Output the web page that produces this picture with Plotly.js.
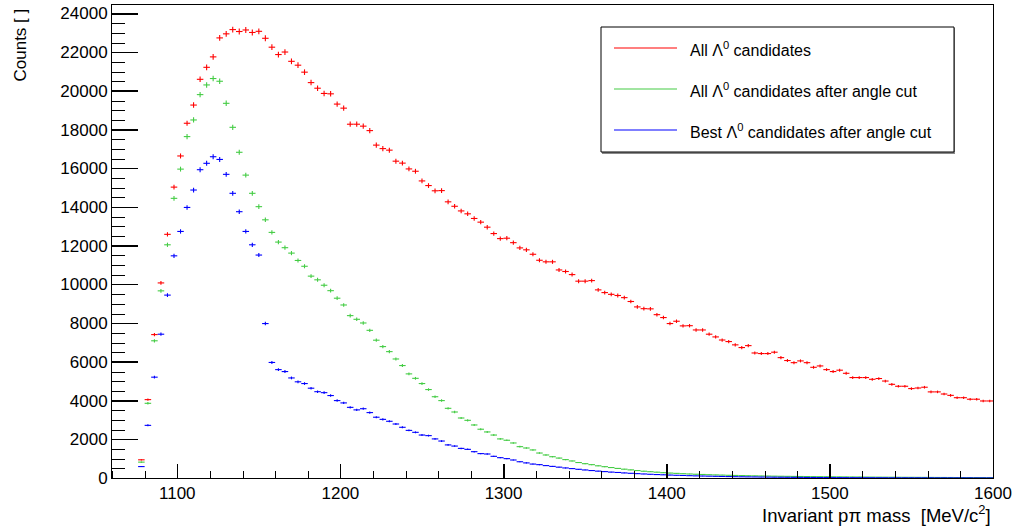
<!DOCTYPE html>
<html>
<head>
<meta charset="utf-8">
<script src="https://cdn.plot.ly/plotly-3.0.1.min.js"></script>
<style>html,body{margin:0;padding:0;background:#fff;}#wrap{position:relative;width:1019px;height:526px;}#chart{width:1019px;height:526px;}#ticks{position:absolute;left:0;top:0;pointer-events:none;}</style>
</head>
<body>
<div id="wrap"><div id="chart"></div><svg id="ticks" width="1019" height="526" xmlns="http://www.w3.org/2000/svg"></svg></div>
<script>
// Bin centres (4 MeV/c^2 bins)
const binCenters = [
 1078,1082,1086,1090,1094,1098,1102,1106,1110,1114,
 1118,1122,1126,1130,1134,1138,1142,1146,1150,1154,
 1158,1162,1166,1170,1174,1178,1182,1186,1190,1194,
 1198,1202,1206,1210,1214,1218,1222,1226,1230,1234,
 1238,1242,1246,1250,1254,1258,1262,1266,1270,1274,
 1278,1282,1286,1290,1294,1298,1302,1306,1310,1314,
 1318,1322,1326,1330,1334,1338,1342,1346,1350,1354,
 1358,1362,1366,1370,1374,1378,1382,1386,1390,1394,
 1398,1402,1406,1410,1414,1418,1422,1426,1430,1434,
 1438,1442,1446,1450,1454,1458,1462,1466,1470,1474,
 1478,1482,1486,1490,1494,1498,1502,1506,1510,1514,
 1518,1522,1526,1530,1534,1538,1542,1546,1550,1554,
 1558,1562,1566,1570,1574,1578,1582,1586,1590,1594,
 1598];

const allCandidates = [
 940,4050,7410,10080,12590,15030,16640,18330,19270,20600,
 21220,21760,22740,22950,23170,23070,23150,23020,23080,22720,
 22260,21880,22010,21530,21330,20970,20430,20140,19870,19850,
 19320,19110,18280,18280,18180,17950,17200,17020,16940,16370,
 16270,15970,15850,15350,15110,14840,14850,14270,14040,13800,
 13650,13410,13220,12960,12630,12370,12390,12160,11890,11790,
 11560,11250,11170,11170,10750,10670,10510,10170,10170,10200,
 9720,9580,9490,9430,9320,9120,8840,8750,8740,8440,
 8290,7980,8100,7860,7870,7650,7650,7430,7290,7130,
 7050,6880,6740,6840,6460,6430,6430,6500,6220,6070,
 5960,6050,5960,5720,5790,5600,5500,5570,5410,5190,
 5190,5190,5100,5140,5010,4840,4740,4740,4620,4650,
 4690,4450,4450,4340,4270,4150,4150,4070,4070,3980,
 3980];

const allAfterCut = [
 820,3860,7090,9670,12050,14450,15960,17640,18500,19810,
 20310,20640,20500,19360,18120,16830,15650,14710,14020,13340,
 12690,12190,11900,11620,11240,10940,10430,10240,9960,9680,
 9290,8940,8390,8200,8010,7630,7120,6790,6530,6150,
 5810,5380,5150,4880,4570,4200,4000,3600,3410,3100,
 2980,2740,2520,2380,2220,2020,1950,1810,1620,1550,
 1450,1290,1190,1100,1030,950,880,800,740,690,
 630,585,540,495,455,420,385,350,325,300,
 275,255,240,222,208,195,182,170,160,150,
 140,132,125,118,112,106,100,95,90,86,
 82,78,74,71,68,65,62,59,56,53,
 51,48,46,44,42,40,38,36,35,33,
 31,30,28,27,26,25,23,22,21,20,
 19];

const bestAfterCut = [
 590,2720,5210,7430,9450,11480,12740,13980,14880,15930,
 16260,16600,16460,15690,14710,13760,12740,12050,11520,7980,
 5970,5600,5500,5170,4970,4880,4640,4460,4410,4260,
 4000,3880,3650,3520,3580,3380,3140,3030,2930,2790,
 2620,2460,2360,2220,2190,2020,1910,1710,1650,1530,
 1480,1360,1260,1240,1120,1050,1000,930,840,780,
 720,690,640,600,560,520,485,450,415,385,
 355,330,305,285,262,243,225,208,192,178,
 165,152,140,130,120,110,102,94,87,80,
 74,68,63,58,54,50,46,42,39,36,
 33,31,28,26,24,22,20,19,17,16,
 15,14,13,12,11,10,9,9,8,8,
 7,7,6,6,6,5,5,5,4,4,
 4];

const seriesNames = [
 'All Λ<sup>0</sup> candidates',
 'All Λ<sup>0</sup> candidates after angle cut',
 'Best Λ<sup>0</sup> candidates after angle cut'];
const seriesColors = ['#ff0000', '#44cc44', '#0000ff'];
const seriesValues = [allCandidates, allAfterCut, bestAfterCut];

// axis tick positions (axis decoration)
const xMajorTicks = [1100, 1200, 1300, 1400, 1500, 1600];
const yMajorTicks = [0, 2000, 4000, 6000, 8000, 10000, 12000, 14000, 16000, 18000, 20000, 22000, 24000];
const xMinorStep = 20, yMinorStep = 500;

const FONT = 'Liberation Sans, Arial, Helvetica, sans-serif';
const W = 1019, H = 526;
const PL = 112, PR = 993, PT = 5, PB = 478;
const XR = [1060, 1600], YR = [0, 24440];
const px = x => (x - PL) / (PR - PL);
const py = y => (PB - y) / (PB - PT);

const traces = seriesValues.map((vals, i) => ({
  type: 'scatter',
  mode: 'markers',
  x: binCenters,
  y: vals,
  name: seriesNames[i],
  showlegend: false,
  marker: {size: 0.1, color: seriesColors[i]},
  error_x: {type: 'constant', value: 2, width: 0, thickness: 1.1, color: seriesColors[i]},
  error_y: {type: 'sqrt', width: 0, thickness: 1.1, color: seriesColors[i]},
  hoverinfo: 'x+y'
}));

// custom ROOT-style legend
const legRowsY = [48, 89, 130];
const shapes = [
  {type: 'rect', xref: 'paper', yref: 'paper', x0: px(602), x1: px(955), y0: py(154), y1: py(28),
   line: {width: 0}, fillcolor: '#888', layer: 'above'},
  {type: 'rect', xref: 'paper', yref: 'paper', x0: px(601), x1: px(954), y0: py(152), y1: py(27),
   line: {width: 1, color: '#000'}, fillcolor: '#fff', layer: 'above'}
];
const annotations = [];
legRowsY.forEach((yy, i) => {
  shapes.push({type: 'line', xref: 'paper', yref: 'paper', x0: px(614), x1: px(677), y0: py(yy), y1: py(yy),
    line: {color: seriesColors[i], width: 1.2}, layer: 'above'});
  annotations.push({xref: 'paper', yref: 'paper', x: px(688), y: py(yy + 1), xanchor: 'left', yanchor: 'middle',
    text: seriesNames[i], showarrow: false, font: {family: FONT, size: 16, color: '#000'}});
});
annotations.push({xref: 'paper', yref: 'paper', x: 1, y: py(514), xanchor: 'right', yanchor: 'middle',
  text: 'Invariant pπ mass \u00a0[MeV/c<sup>2</sup>]', showarrow: false, font: {family: FONT, size: 18.5, color: '#000'}});
annotations.push({xref: 'paper', yref: 'paper', x: px(20), y: py(7), xanchor: 'center', yanchor: 'top', textangle: -90,
  text: 'Counts [ ]', showarrow: false, font: {family: FONT, size: 17, color: '#000'}});

const layout = {
  width: W, height: H,
  margin: {l: PL, r: W - PR, t: PT, b: H - PB, pad: 0},
  paper_bgcolor: '#fff', plot_bgcolor: '#fff',
  showlegend: false,
  font: {family: FONT, size: 17, color: '#000'},
  xaxis: {
    range: XR, tick0: 1000, dtick: 100, ticks: 'inside', ticklen: 14, tickwidth: 1, tickcolor: '#000',
    showline: true, linecolor: '#000', linewidth: 1, mirror: true, showgrid: false, zeroline: false,
    tickfont: {family: FONT, size: 17, color: '#000'}
  },
  yaxis: {
    range: YR, tick0: 0, dtick: 2000, ticks: 'inside', ticklen: 26, tickwidth: 1, tickcolor: '#000',
    showline: true, linecolor: '#000', linewidth: 1, mirror: true, showgrid: false, zeroline: false,
    tickformat: 'd', tickfont: {family: FONT, size: 17, color: '#000'}
  },
  shapes: shapes,
  annotations: annotations
};

// ROOT-style inside ticks, placed with Plotly's own axis scales on an overlay
function drawTicks(gd) {
  const xa = gd._fullLayout.xaxis, ya = gd._fullLayout.yaxis;
  const svg = document.getElementById('ticks');
  const NS = 'http://www.w3.org/2000/svg';
  const y0 = ya._offset + ya._length, x0 = xa._offset;
  const add = (xA, yA, xB, yB) => {
    const l = document.createElementNS(NS, 'line');
    l.setAttribute('x1', xA); l.setAttribute('y1', yA); l.setAttribute('x2', xB); l.setAttribute('y2', yB);
    l.setAttribute('stroke', '#000'); l.setAttribute('stroke-width', '1'); l.setAttribute('shape-rendering', 'crispEdges');
    svg.appendChild(l);
  };
  for (let v = XR[0]; v <= XR[1]; v += xMinorStep) {
    const X = Math.round(xa._offset + xa.l2p(v)) + 0.5;
    add(X, y0, X, y0 - (xMajorTicks.includes(v) ? 14 : 7));
  }
  for (let v = 0; v <= 24000; v += yMinorStep) {
    const Y = Math.round(ya._offset + ya.l2p(v)) + 0.5;
    add(x0, Y, x0 + (yMajorTicks.includes(v) ? 26 : 13), Y);
  }
}

Plotly.newPlot('chart', traces, layout, {displayModeBar: false, staticPlot: true}).then(drawTicks);
</script>
</body>
</html>
